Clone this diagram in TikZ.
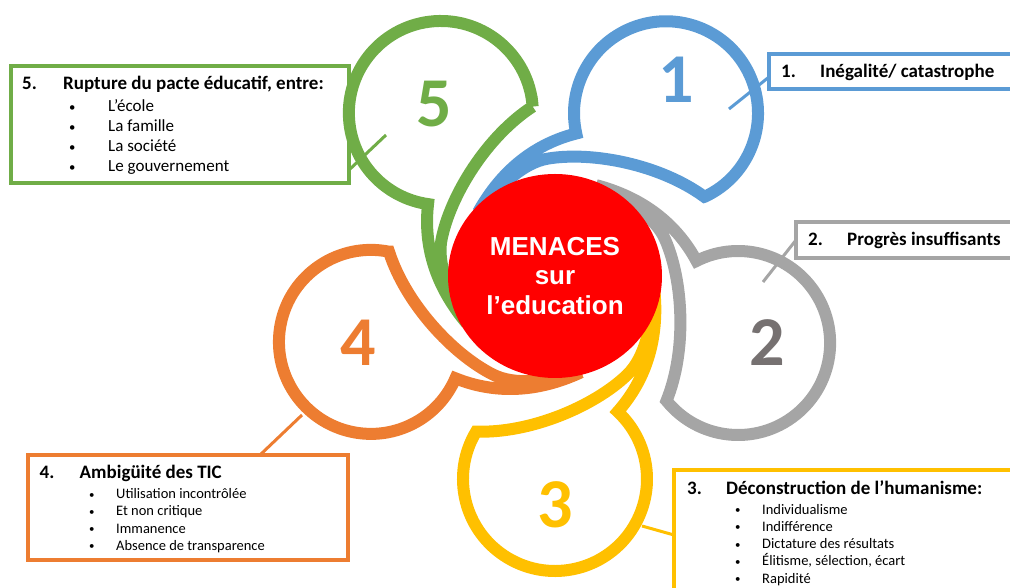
\documentclass[tikz,border=0pt]{standalone}
\usepackage{fontspec}
\setmainfont{Carlito}
\newfontfamily\arialfont{Liberation Sans}
\usetikzlibrary{shapes.geometric}
\definecolor{petalblue}{HTML}{5B9BD5}
\definecolor{petalgrey}{HTML}{A5A5A5}
\definecolor{petalyellow}{HTML}{FFC000}
\definecolor{petalorange}{HTML}{ED7D31}
\definecolor{petalgreen}{HTML}{70AD47}
\definecolor{numgrey}{HTML}{767171}
\newcommand{\dotitem}[1]{\makebox[#1][l]{\raisebox{0.5pt}{\scalebox{0.75}{\textbullet}}}}

\begin{document}
\begin{tikzpicture}[x=1pt,y=1pt,
  petal/.style={line width=12pt},
  box/.style={draw,line width=3.5pt,inner sep=0pt,outer sep=0pt,anchor=north west},
  link/.style={line width=3pt},
  num/.style={inner sep=0pt,font=\fontsize{70}{70}\selectfont\bfseries},
  boxtext/.style={inner sep=0pt,anchor=north west,align=left},
  headtext/.style={boxtext,font=\fontsize{19}{20}\selectfont\bfseries},
  bigtext/.style={boxtext,font=\fontsize{17}{20}\selectfont},
  smalltext/.style={boxtext,font=\fontsize{14.5}{17.25}\selectfont}]
\useasboundingbox (0,0) rectangle (1010,588);

\begin{scope}[shift={(555,312)},rotate=55.7,xshift=-1]
\draw[petal,petalblue] ([shift={(239:92)}]198,0) arc[start angle=239,end angle=497,radius=92]
  .. controls (100,90) and (60,104) .. (84:100)
  .. controls (45.5,96.4) and (76.7,90) .. (94,72)
  .. controls (125,39.6) and (152.5,-24) .. cycle; %petal 1
\end{scope}
\begin{scope}[shift={(555,312)},rotate=-20.1,xshift=-3]
\draw[petal,petalgrey] ([shift={(239:92)}]198,0) arc[start angle=239,end angle=497,radius=92]
  .. controls (100,90) and (60,104) .. (84:100)
  .. controls (45.5,96.4) and (76.7,90) .. (94,72)
  .. controls (125,39.6) and (152.5,-24) .. cycle; %petal 2
\end{scope}
\begin{scope}[shift={(555,312)},rotate=-90,xshift=5]
\draw[petal,petalyellow] ([shift={(239:92)}]198,0) arc[start angle=239,end angle=497,radius=92]
  .. controls (100,90) and (60,104) .. (84:100)
  .. controls (45.5,96.4) and (76.7,90) .. (94,72)
  .. controls (125,39.6) and (152.5,-24) .. cycle; %petal 3
\end{scope}
\begin{scope}[shift={(555,312)},rotate=199.7,xshift=-2.5]
\draw[petal,petalorange] ([shift={(239:92)}]198,0) arc[start angle=239,end angle=497,radius=92]
  .. controls (100,90) and (60,104) .. (84:100)
  .. controls (45.5,96.4) and (76.7,90) .. (94,72)
  .. controls (125,39.6) and (152.5,-24) .. cycle; %petal 4
\end{scope}
\begin{scope}[shift={(555,312)},rotate=125,xshift=1]
\draw[petal,petalgreen] ([shift={(239:92)}]198,0) arc[start angle=239,end angle=497,radius=92]
  .. controls (100,90) and (60,104) .. (84:100)
  .. controls (45.5,96.4) and (76.7,90) .. (94,72)
  .. controls (125,39.6) and (152.5,-24) .. cycle; %petal 5
\end{scope}

\node[ellipse,fill=red,minimum width=214pt,minimum height=204pt,inner sep=0pt,
  text=white,align=center,font=\arialfont\bfseries\fontsize{26}{29.5}\selectfont]
  (centre) at (555,312) {MENACES\\sur\\l’education}; %centre

\node[num,petalblue] (n1) at (676,508) {1};
\node[num,numgrey] (n2) at (767,245) {2};
\node[num,petalyellow] (n3) at (555,83) {3};
\node[num,petalorange] (n4) at (358,245) {4};
\node[num,petalgreen] (n5) at (434,484) {5};

\node[box,petalblue,minimum width=256pt,minimum height=35pt] (box1) at (769,534) {}; %box 1
\node[box,petalgrey,minimum width=229pt,minimum height=36pt] (box2) at (796,366) {}; %box 2
\node[box,petalyellow,minimum width=351pt,minimum height=130pt] (box3) at (674,118) {}; %box 3
\node[box,petalorange,minimum width=320pt,minimum height=105pt] (box4) at (28,133) {}; %box 4
\node[box,petalgreen,minimum width=338pt,minimum height=117pt] (box5) at (11,522) {}; %box 5

\coordinate (c1) at (729,479);
\coordinate (c2) at (763,306);
\coordinate (c3) at (642,62);
\coordinate (c4) at (302,173);
\coordinate (c5) at (386,453);
\draw[link,petalblue] (c1) -- ([yshift=-5.5]box1.west);
\draw[link,petalgrey] (c2) -- (box2.west);
\draw[link,petalyellow] (c3) -- (box3.west);
\draw[link,petalorange] (c4) -- ([xshift=72]box4.north);
\draw[link,petalgreen] (c5) -- ([yshift=13]box5.south east);

\node[headtext] (t1) at (781,524) {\makebox[39pt][l]{1.}Inégalité/ catastrophe};
\node[headtext] (t2) at (808,356) {\makebox[39pt][l]{2.}Progrès insuffisants};
\node[smalltext] (t3) at (687,108)
  {{\bfseries\fontsize{19}{17.25}\selectfont\makebox[39pt][l]{3.}Déconstruction de l’humanisme:}\\[2.75pt]
  \hspace*{48pt}\dotitem{27pt}Individualisme\\
  \hspace*{48pt}\dotitem{27pt}Indifférence\\
  \hspace*{48pt}\dotitem{27pt}Dictature des résultats\\
  \hspace*{48pt}\dotitem{27pt}Élitisme, sélection, écart\\
  \hspace*{48pt}\dotitem{27pt}Rapidité};
\node[smalltext] (t4) at (39.5,123)
  {{\bfseries\fontsize{19}{17.25}\selectfont\makebox[40pt][l]{4.}Ambigüité des TIC}\\[2.75pt]
  \hspace*{49.5pt}\dotitem{27pt}Utilisation incontrôlée\\
  \hspace*{49.5pt}\dotitem{27pt}Et non critique\\
  \hspace*{49.5pt}\dotitem{27pt}Immanence\\
  \hspace*{49.5pt}\dotitem{27pt}Absence de transparence};
\node[bigtext] (t5) at (22,512)
  {{\bfseries\fontsize{19}{20}\selectfont\makebox[41pt][l]{5.}Rupture du pacte éducatif, entre:}\\[2pt]
  \hspace*{47pt}\dotitem{39pt}L’école\\
  \hspace*{47pt}\dotitem{39pt}La famille\\
  \hspace*{47pt}\dotitem{39pt}La société\\
  \hspace*{47pt}\dotitem{39pt}Le gouvernement};
\end{tikzpicture}
\end{document}
